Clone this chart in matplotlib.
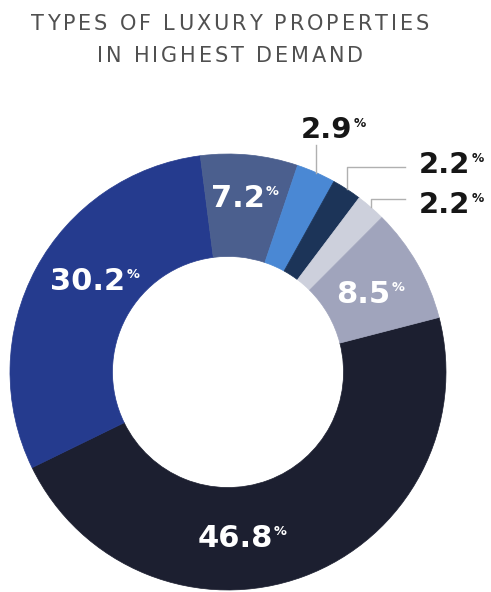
import matplotlib
matplotlib.use("Agg")
import matplotlib.pyplot as plt
import numpy as np
from matplotlib.font_manager import FontProperties

# data, clockwise from the right-hand side
shares = [46.8, 30.2, 7.2, 2.9, 2.2, 2.2, 8.5]
labels = ["46.8", "30.2", "7.2", "2.9", "2.2", "2.2", "8.5"]
colors = ["#1c1f30", "#253b8e", "#4b5f8e", "#4a88d4", "#1c3458", "#cdd0dc", "#a0a4bc"]
title_lines = ["TYPES OF LUXURY PROPERTIES", "IN HIGHEST DEMAND"]

# layout (data units of the pie axes, radius 1)
inside = {0: (0.032, -0.803), 1: (-0.644, 0.376), 2: (0.044, 0.757), 6: (0.622, 0.317)}
outside = {3: (0.450, 1.073), 4: (0.993, 0.913), 5: (0.993, 0.729)}
leader_top = {3: 1.041, 4: 0.940, 5: 0.794}
leader_end = 0.812

W, H = 491, 592
fig = plt.figure(figsize=(W / 100, H / 100), dpi=100)
fig.patch.set_facecolor("white")


def tracked_text(y_px, s, size, spacing, color, centre=230):
    """Draw a centred line of text with extra letter spacing."""
    r = fig.canvas.get_renderer()
    prop = FontProperties(family="DejaVu Sans", size=size)
    px = size * 100 / 72
    widths = []
    for c in s:
        if c == " ":
            widths.append(0.318 * px)
        else:
            widths.append(r.get_text_width_height_descent(c, prop, ismath=False)[0])
    total = sum(widths) + spacing * (len(s) - 1)
    x = centre - total / 2
    for c, w in zip(s, widths):
        if c != " ":
            fig.text(x / W, 1 - y_px / H, c, fontproperties=prop, color=color,
                     ha="left", va="baseline")
        x += w + spacing


tracked_text(30, title_lines[0], 15, 2.9, "#505050")
tracked_text(62, title_lines[1], 15, 2.9, "#505050")

cx, cy, R = 228, 372, 218
ax = fig.add_axes([(cx - R) / W, (H - cy - R) / H, 2 * R / W, 2 * R / H])
wedges, _ = ax.pie(shares, colors=colors, startangle=14.5, counterclock=False,
                   radius=1, wedgeprops=dict(width=0.47))
# edge in the wedge's own colour hides the antialiasing seams
for w in wedges:
    w.set_edgecolor(w.get_facecolor())
    w.set_linewidth(0.5)
ax.set_xlim(-1, 1)
ax.set_ylim(-1, 1)
ax.axis("off")


def pct_label(x, y, txt, color, size):
    t = ax.text(x, y, txt, ha="center", va="baseline", fontsize=size,
                fontweight="bold", color=color, clip_on=False)
    ax.annotate("%", xy=(1, 1), xycoords=t, xytext=(1, -0.5), textcoords="offset points",
                ha="left", va="top", fontsize=size * 0.42, fontweight="bold", color=color)


for i, (x, y) in inside.items():
    pct_label(x, y, labels[i], "white", 22)

for i, (x, y) in outside.items():
    pct_label(x, y, labels[i], "#161616", 21)
    w = wedges[i]
    mid = np.deg2rad((w.theta1 + w.theta2) / 2)
    x0, y0 = np.cos(mid), np.sin(mid)
    xs, ys = [x0, x0], [y0, leader_top[i]]
    if i != 3:
        xs.append(leader_end)
        ys.append(leader_top[i])
    ax.plot(xs, ys, color="#b0b0b0", lw=1, clip_on=False)

fig.savefig("out.png", dpi=100, facecolor="white")
